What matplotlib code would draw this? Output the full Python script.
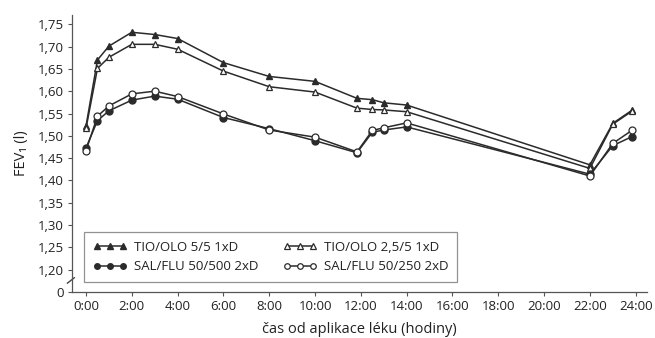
import matplotlib
matplotlib.use("Agg")
import matplotlib.pyplot as plt

plt.rcParams['font.family'] = ['Open Sans', 'DejaVu Sans']

hours = [0, 0.5, 1, 2, 3, 4, 6, 8, 10, 11.83, 12.5, 13, 14, 22, 23, 23.83]
tio_5_5 = [1.522, 1.670, 1.701, 1.732, 1.727, 1.718, 1.664, 1.633, 1.622, 1.584,
           1.581, 1.574, 1.569, 1.435, 1.528, 1.557]
tio_25_5 = [1.517, 1.651, 1.676, 1.705, 1.705, 1.694, 1.645, 1.610, 1.598, 1.562,
            1.559, 1.558, 1.554, 1.427, 1.526, 1.555]
sal_500 = [1.473, 1.534, 1.556, 1.580, 1.589, 1.582, 1.541, 1.516, 1.489, 1.462,
           1.508, 1.513, 1.520, 1.414, 1.478, 1.498]
sal_250 = [1.467, 1.544, 1.567, 1.594, 1.600, 1.588, 1.549, 1.513, 1.497, 1.464,
           1.512, 1.518, 1.529, 1.410, 1.483, 1.512]

labels = ["TIO/OLO 5/5 1xD", "TIO/OLO 2,5/5 1xD", "SAL/FLU 50/500 2xD", "SAL/FLU 50/250 2xD"]
xticks = list(range(0, 25, 2))
xticklabels = [f"{h}:00" for h in xticks]
yticks = [1.15, 1.20, 1.25, 1.30, 1.35, 1.40, 1.45, 1.50, 1.55, 1.60, 1.65, 1.70, 1.75]
yticklabels = ["0"] + [f"{v:.2f}".replace(".", ",") for v in yticks[1:]]

fig = plt.figure(figsize=(6.55, 3.38), dpi=100)
ax = fig.add_axes([0.110, 0.136, 0.878, 0.820])

col = "#2b2b2b"
lw = 1.1
ms = 5
l1, = ax.plot(hours, tio_5_5, color=col, lw=lw, marker="^", ms=ms, mfc=col, mec=col)
l2, = ax.plot(hours, tio_25_5, color=col, lw=lw, marker="^", ms=ms, mfc="white", mec=col, mew=0.9)
l3, = ax.plot(hours, sal_500, color=col, lw=lw, marker="o", ms=ms, mfc=col, mec=col)
l4, = ax.plot(hours, sal_250, color=col, lw=lw, marker="o", ms=ms, mfc="white", mec=col, mew=0.9)

ax.set_xlim(-0.61, 24.5)
ax.set_ylim(1.15, 1.771)
ax.set_xticks(xticks)
ax.set_xticklabels(xticklabels)
ax.set_yticks(yticks)
ax.set_yticklabels(yticklabels)

for s in ["top", "right"]:
    ax.spines[s].set_visible(False)
for s in ["left", "bottom"]:
    ax.spines[s].set_color("#555555")
    ax.spines[s].set_linewidth(0.9)
ax.tick_params(axis="both", direction="out", length=3, width=0.8, color="#555555",
               labelsize=9.5, labelcolor="#222222", pad=3)

# axis break mark
ax.plot([-0.008, 0.004], [1.170, 1.182], transform=ax.get_yaxis_transform(),
        color="#444444", lw=1.0, clip_on=False)

ax.set_xlabel("čas od aplikace léku (hodiny)", fontsize=10.5, color="#222222", labelpad=6)
ax.set_ylabel("FEV₁ (l)", fontsize=10.5, color="#222222", labelpad=6)

leg = ax.legend([l1, l3, l2, l4], [labels[0], labels[2], labels[1], labels[3]],
                ncol=2, numpoints=3, loc="lower left",
                bbox_to_anchor=(0.021, 0.036), borderaxespad=0, fancybox=False,
                edgecolor="#777777", fontsize=9.5, handlelength=2.6, handletextpad=0.5,
                columnspacing=1.9, markerscale=0.8, borderpad=0.65, labelspacing=0.5)
leg.get_frame().set_linewidth(0.9)
for t in leg.get_texts():
    t.set_color("#222222")

fig.savefig("out.png", dpi=100)
